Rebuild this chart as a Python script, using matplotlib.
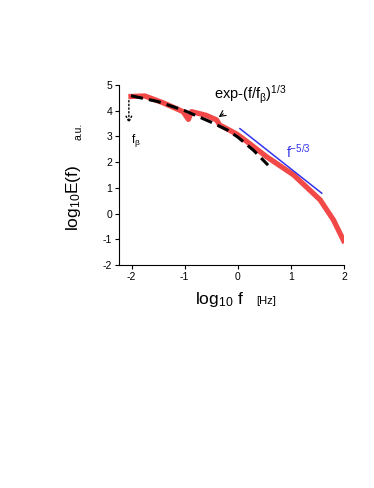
import matplotlib.pyplot as plt

plt.rcParams['font.family'] = ['Liberation Sans', 'DejaVu Sans']
plt.rcParams['mathtext.fontset'] = 'custom'
plt.rcParams['mathtext.rm'] = 'Liberation Sans'
plt.rcParams['mathtext.it'] = 'Liberation Sans'
plt.rcParams['mathtext.default'] = 'regular'
plt.rcParams['axes.unicode_minus'] = False

# spectrum (red)
spec_x = [-2.01, -1.75, -1.4, -1.03, -0.93, -0.87, -0.6, -0.40, -0.34, -0.02, 0.17, 0.54, 1.05, 1.55, 1.80, 1.99]
spec_y = [4.55, 4.57, 4.3, 3.96, 3.66, 3.96, 3.82, 3.64, 3.44, 3.09, 2.80, 2.21, 1.50, 0.53, -0.25, -1.05]

# stretched-exponential fit (black dashed)
fit_x = [-2.01, -1.5, -1.0, -0.5, -0.2, 0.0, 0.3, 0.57]
fit_y = [4.58, 4.35, 4.0, 3.55, 3.25, 2.97, 2.45, 1.88]

# -5/3 reference line (blue)
ref_x = [0.04, 1.58]
ref_y = [3.30, 0.79]

fig = plt.figure(figsize=(3.74, 4.88), dpi=100)
ax = fig.add_axes([0.319, 0.457, 0.601, 0.369])

ax.plot(spec_x, spec_y, color='#f24848', lw=3.8, solid_joinstyle='round', zorder=2)
ax.plot(fit_x, fit_y, color='black', lw=2.2, dashes=(4, 2), zorder=3)
ax.plot(ref_x, ref_y, color='#3333ee', lw=1.1, zorder=2)

# f_beta marker
ax.annotate('', xy=(-2.05, 3.4), xytext=(-2.05, 4.5),
            arrowprops=dict(arrowstyle='->', ls=':', lw=1.0, color='black'))
ax.text(-1.92, 2.85, r'f$_\beta$', fontsize=8.5, ha='center', va='center')

ax.annotate(r'exp-(f/f$_\beta$)$^{1/3}$', xy=(-0.36, 3.75), xytext=(0.23, 4.6),
            fontsize=10.5, ha='center', va='center',
            arrowprops=dict(arrowstyle='->', lw=0.8, color='black',
                            shrinkA=6, shrinkB=0))
ax.text(1.14, 2.42, r'f$^{-5/3}$', color='#3333ee', fontsize=10, ha='center', va='center')

ax.set_xlim(-2.23, 2)
ax.set_ylim(-2, 5)
ax.set_xticks([-2, -1, 0, 1, 2])
ax.set_yticks(range(-2, 6))
ax.tick_params(labelsize=7.5, length=3, width=0.8, pad=2)
for s in ['top', 'right']:
    ax.spines[s].set_visible(False)
for s in ['left', 'bottom']:
    ax.spines[s].set_linewidth(0.8)

fig.text(0.197, 0.594, r'log$_{10}$E(f)', rotation=90, fontsize=12.5, ha='center', va='center')
fig.text(0.209, 0.73, 'a.u.', rotation=90, fontsize=7.5, ha='center', va='center')
fig.text(0.586, 0.387, r'log$_{10}$ f', fontsize=12.5, ha='center', va='center')
fig.text(0.711, 0.383, '[Hz]', fontsize=8, ha='center', va='center')

fig.savefig('out.png', dpi=100)
